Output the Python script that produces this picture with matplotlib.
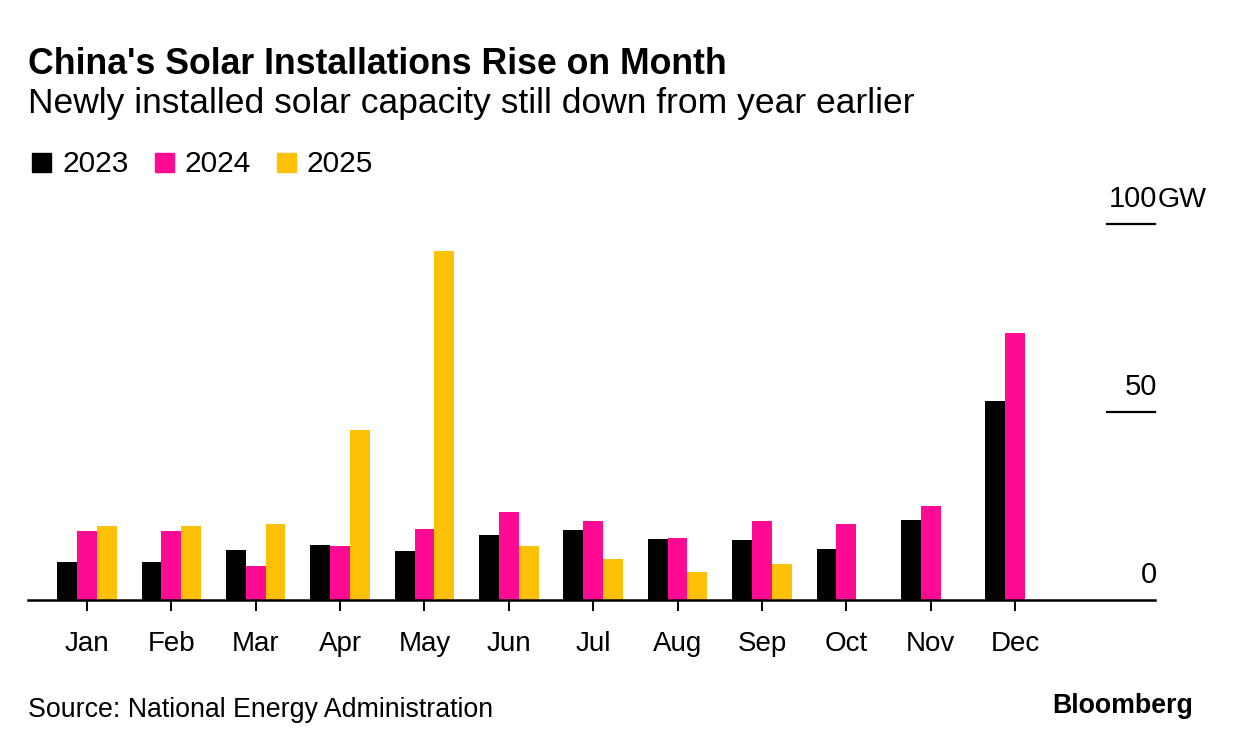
import numpy as np
import matplotlib
matplotlib.use("Agg")
import matplotlib.pyplot as plt

plt.rcParams['font.family'] = ['Liberation Sans', 'DejaVu Sans']

months = ["Jan", "Feb", "Mar", "Apr", "May", "Jun", "Jul", "Aug", "Sep", "Oct", "Nov", "Dec"]
gw_2023 = [10.2, 10.2, 13.3, 14.65, 12.9, 17.2, 18.7, 16.1, 15.9, 13.6, 21.3, 53.0]
gw_2024 = [18.4, 18.4, 9.0, 14.4, 19.0, 23.5, 21.05, 16.5, 20.9, 20.3, 24.9, 71.0]
gw_2025 = [19.7, 19.7, 20.2, 45.2, 92.9, 14.4, 11.0, 7.4, 9.7]
years = ["2023", "2024", "2025"]
colors = ["#000000", "#ff0a93", "#ffc107"]

W, H = 1233, 750
fig = plt.figure(figsize=(W / 100, H / 100), dpi=100)
ax = fig.add_axes([28 / W, 150 / H, (1155 - 28) / W, 376 / H])

x = np.arange(len(months))
w = 0.235
ax.bar(x - w, gw_2023, width=w, color=colors[0], linewidth=0)
ax.bar(x, gw_2024, width=w, color=colors[1], linewidth=0)
ax.bar(np.arange(len(gw_2025)) + w, gw_2025, width=w, color=colors[2], linewidth=0)

ax.set_xlim(-0.70, 12.66)
ax.set_ylim(0, 100)
for s in ["top", "right", "left"]:
    ax.spines[s].set_visible(False)
ax.spines["bottom"].set_linewidth(1.8)
ax.set_yticks([])
ax.set_xticks(x)
ax.set_xticklabels(months, fontsize=20)
ax.tick_params(axis="x", length=8, width=1.4, pad=14)

# right-side value labels with short stubs
yt = ax.get_yaxis_transform()
for v, lab in [(0, "0"), (50, "50"), (100, "100")]:
    ax.text(1.002, v + 4.5, lab, transform=yt, ha="right", va="baseline",
            fontsize=21, clip_on=False)
    if v > 0:
        ax.plot([0.9575, 1.0], [v, v], transform=yt, color="black",
                lw=1.6, clip_on=False)
ax.text(1.0025, 100 + 4.5, "GW", transform=yt, ha="left", va="baseline",
        fontsize=20.5, clip_on=False)

fig.text(28 / W, 1 - 74 / H, "China's Solar Installations Rise on Month", fontsize=25.7,
         fontweight="bold", va="baseline", ha="left")
fig.text(28 / W, 1 - 113 / H, "Newly installed solar capacity still down from year earlier",
         fontsize=25.5, va="baseline", ha="left")

# legend
lx = [32, 155, 277]
for px, yr, c in zip(lx, years, colors):
    fig.patches.append(plt.Rectangle((px / W, 1 - 172 / H), 19 / W, 19 / H,
                                     transform=fig.transFigure, color=c))
    fig.text((px + 30) / W, 1 - 172 / H, yr, fontsize=21.5, va="baseline", ha="left")

fig.text(28 / W, 1 - 717 / H, "Source: National Energy Administration", fontsize=19.3,
         va="baseline", ha="left")
fig.text(1193 / W, 1 - 713 / H, "Bloomberg", fontsize=19.3, fontweight="bold",
         va="baseline", ha="right")

fig.savefig("out.png", dpi=100, facecolor="white")
